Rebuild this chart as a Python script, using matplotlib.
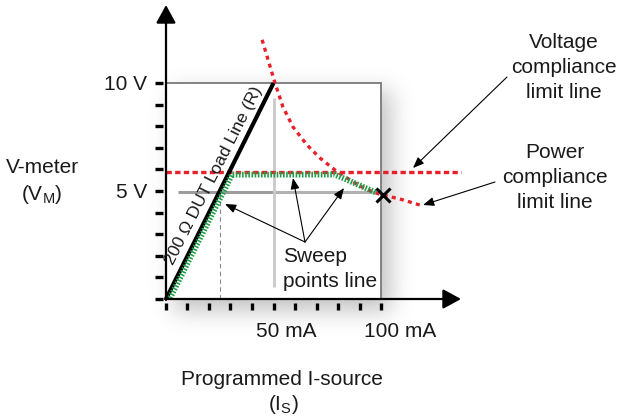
import math
import numpy as np
import matplotlib
matplotlib.use('Agg')
import matplotlib.pyplot as plt
from matplotlib.patches import Rectangle

plt.rcParams['font.family'] = ['Liberation Sans', 'DejaVu Sans']
plt.rcParams['mathtext.default'] = 'regular'

# ---------------- data (mA, V) ----------------
load_I = [0, 50]
load_V = [0, 10]
vlimit_I = [0, 137]
vlimit_V = [5.88, 5.88]
power_I = [44.7, 50.7, 54.4, 59.1, 65.6, 71.6, 78.6, 84.2, 90.2, 96.3, 100.9, 108.8, 118.1]
power_V = [12.0, 10.0, 8.89, 7.96, 7.13, 6.53, 5.97, 5.60, 5.23, 4.95, 4.81, 4.63, 4.35]
sweep_I = [1.9, 30.7, 78.6, 98.1]
sweep_V = [0.05, 5.76, 5.76, 4.91]
end_I = [100.9]
end_V = [4.81]
guide5a_I = [5.6, 50]
guide5b_I = [50, 100]
guide5_V = [4.95, 4.95]
guide50_I = [50.2, 50.2]
guide50_V = [0.55, 9.3]
dash25_I = [25, 25]
dash25_V = [0, 4.95]
ytick_vals = list(range(0, 11))
xtick_vals = list(range(0, 101, 10))
ytick_labels = {10: '10 V', 5: '5 V'}
xtick_labels = {50: '50 mA', 100: '100 mA'}

W, H = 618, 420
PX_I = 2.15   # pixels per mA
PX_V = 21.6   # pixels per V
X0, Y0 = 166, 299   # pixel of origin


def dI(px):
    return px / PX_I


def dV(px):
    return px / PX_V


def pI(x):
    return (x - X0) / PX_I


def pV(y):
    return (Y0 - y) / PX_V


fig = plt.figure(figsize=(W / 100, H / 100), dpi=100)
ax = fig.add_axes([X0 / W, (H - Y0) / H, 215 / W, 216 / H])
ax.axis('off')

# ---------------- drop shadow ----------------
xs = np.arange(140, 490) + 0.5
ys = np.arange(60, 370) + 0.5
erf = np.vectorize(math.erf)
s = 11 * math.sqrt(2)
sx = 0.5 * (erf((xs - (X0 + 8)) / s) - erf((xs - (381 + 10)) / s))
sy = 0.5 * (erf((ys - (83 + 8)) / s) - erf((ys - (Y0 + 12)) / s))
val = np.outer(sy, sx)
img = np.zeros((len(ys), len(xs), 4))
img[..., :3] = 0.42
img[..., 3] = 0.40 * val
im = ax.imshow(img, extent=[pI(140), pI(490), pV(370), pV(60)], origin='upper',
               aspect='auto', zorder=0, interpolation='bilinear')
im.set_clip_on(False)

# white plotting box
ax.add_patch(Rectangle((0, 0), 100, 10, facecolor='white', edgecolor='#7a7a7a',
                       lw=1.3, zorder=1, clip_on=False))

# guides
ax.plot(guide5a_I, guide5_V, color='#9c9c9c', lw=2.2, zorder=2, clip_on=False,
        solid_capstyle='butt')
ax.plot(guide5b_I, guide5_V, color='#b2b2b2', lw=2.2, zorder=2, clip_on=False,
        solid_capstyle='butt')
ax.plot(guide50_I, guide50_V, color='#c9c9c9', lw=2.0, zorder=2, clip_on=False,
        solid_capstyle='butt')
ax.plot(dash25_I, dash25_V, color='#8a8a8a', lw=0.8, dashes=(4, 3), zorder=2,
        clip_on=False)

# compliance limits
red = '#e8202a'
ax.plot(vlimit_I, vlimit_V, color=red, lw=2.4, dashes=(1.6, 1.0), zorder=3,
        clip_on=False, dash_capstyle='butt')
ax.plot(power_I, power_V, color=red, lw=2.4, dashes=(1.2, 1.3), zorder=3,
        clip_on=False, dash_capstyle='butt')

# load line
ax.plot(load_I, load_V, color='black', lw=3.0, zorder=4, clip_on=False,
        solid_capstyle='butt')

# sweep points line
ax.plot(sweep_I, sweep_V, color='#1f9e4a', lw=4.2, dashes=(0.28, 0.26), zorder=5,
        clip_on=False, dash_capstyle='butt')
ax.plot(end_I, end_V, marker='x', color='black', ms=10, mew=2.2, zorder=6,
        clip_on=False, ls='none')

# axes with arrows
ahead = dict(arrowstyle='-|>,head_length=0.55,head_width=0.3', lw=1.6,
             color='black', shrinkA=0, shrinkB=0, mutation_scale=20)
ax.annotate('', xy=(0, pV(5)), xytext=(0, pV(Y0 + 1)), arrowprops=ahead,
            annotation_clip=False, zorder=7)
ax.annotate('', xy=(pI(461), 0), xytext=(pI(X0 - 1), 0), arrowprops=ahead,
            annotation_clip=False, zorder=7)

# ticks
for v in ytick_vals:
    ax.plot([-dI(11), -dI(3)], [v, v], color='black', lw=2.4, clip_on=False,
            solid_capstyle='butt', zorder=7)
for i in xtick_vals:
    ax.plot([i, i], [-dV(4), -dV(11)], color='black', lw=2.4, clip_on=False,
            solid_capstyle='butt', zorder=7)

FS = 15
TC = '#1a1a1a'
for v, lab in ytick_labels.items():
    ax.text(-dI(19), v - dV(7), lab, ha='right', va='baseline', fontsize=FS,
            color=TC)
for i, lab in xtick_labels.items():
    ax.text(i - dI(17), pV(337), lab, ha='left', va='baseline', fontsize=FS,
            color=TC)

# axis titles
ax.text(pI(42), pV(173), 'V-meter', ha='center', va='baseline', fontsize=FS,
        color=TC)
ax.text(pI(42), pV(200), '(V$_M$)', ha='center', va='baseline', fontsize=FS,
        color=TC)
ax.text(pI(282), pV(385), 'Programmed I-source', ha='center', va='baseline',
        fontsize=FS, color=TC)
ax.text(pI(283), pV(410), '(I$_S$)', ha='center', va='baseline', fontsize=FS,
        color=TC)

# load line label
ax.text(pI(213.5), pV(175.5), '200 \u03a9 DUT Load Line (R)', rotation=63.2,
        rotation_mode='anchor', ha='center', va='center', fontsize=12.5,
        color=TC, zorder=8)

# sweep label and arrows
ax.text(pI(283), pV(262), 'Sweep', ha='left', va='baseline', fontsize=FS,
        color=TC)
ax.text(pI(283), pV(287), 'points line', ha='left', va='baseline', fontsize=FS,
        color=TC)
small = dict(arrowstyle='-|>,head_length=0.55,head_width=0.22', lw=0.8,
             color='black', shrinkA=0, shrinkB=0, mutation_scale=12)
src = (pI(305), pV(242))
for tx, ty in [(225, 204), (293, 178), (344, 188)]:
    ax.annotate('', xy=(pI(tx), pV(ty)), xytext=src, arrowprops=small,
                annotation_clip=False, zorder=8)

# right annotations
for k, line in enumerate(['Voltage', 'compliance', 'limit line']):
    ax.text(pI(564), pV(48 + 25 * k), line, ha='center', va='baseline',
            fontsize=FS, color=TC)
for k, line in enumerate(['Power', 'compliance', 'limit line']):
    ax.text(pI(555), pV(158 + 25 * k), line, ha='center', va='baseline',
            fontsize=FS, color=TC)
ax.annotate('', xy=(pI(413), pV(168)), xytext=(pI(507), pV(77)),
            arrowprops=small, annotation_clip=False)
ax.annotate('', xy=(pI(423), pV(205)), xytext=(pI(495), pV(182)),
            arrowprops=small, annotation_clip=False)

ax.set_xlim(0, 100)
ax.set_ylim(0, 10)

fig.savefig('out.png', dpi=100, facecolor='white')
